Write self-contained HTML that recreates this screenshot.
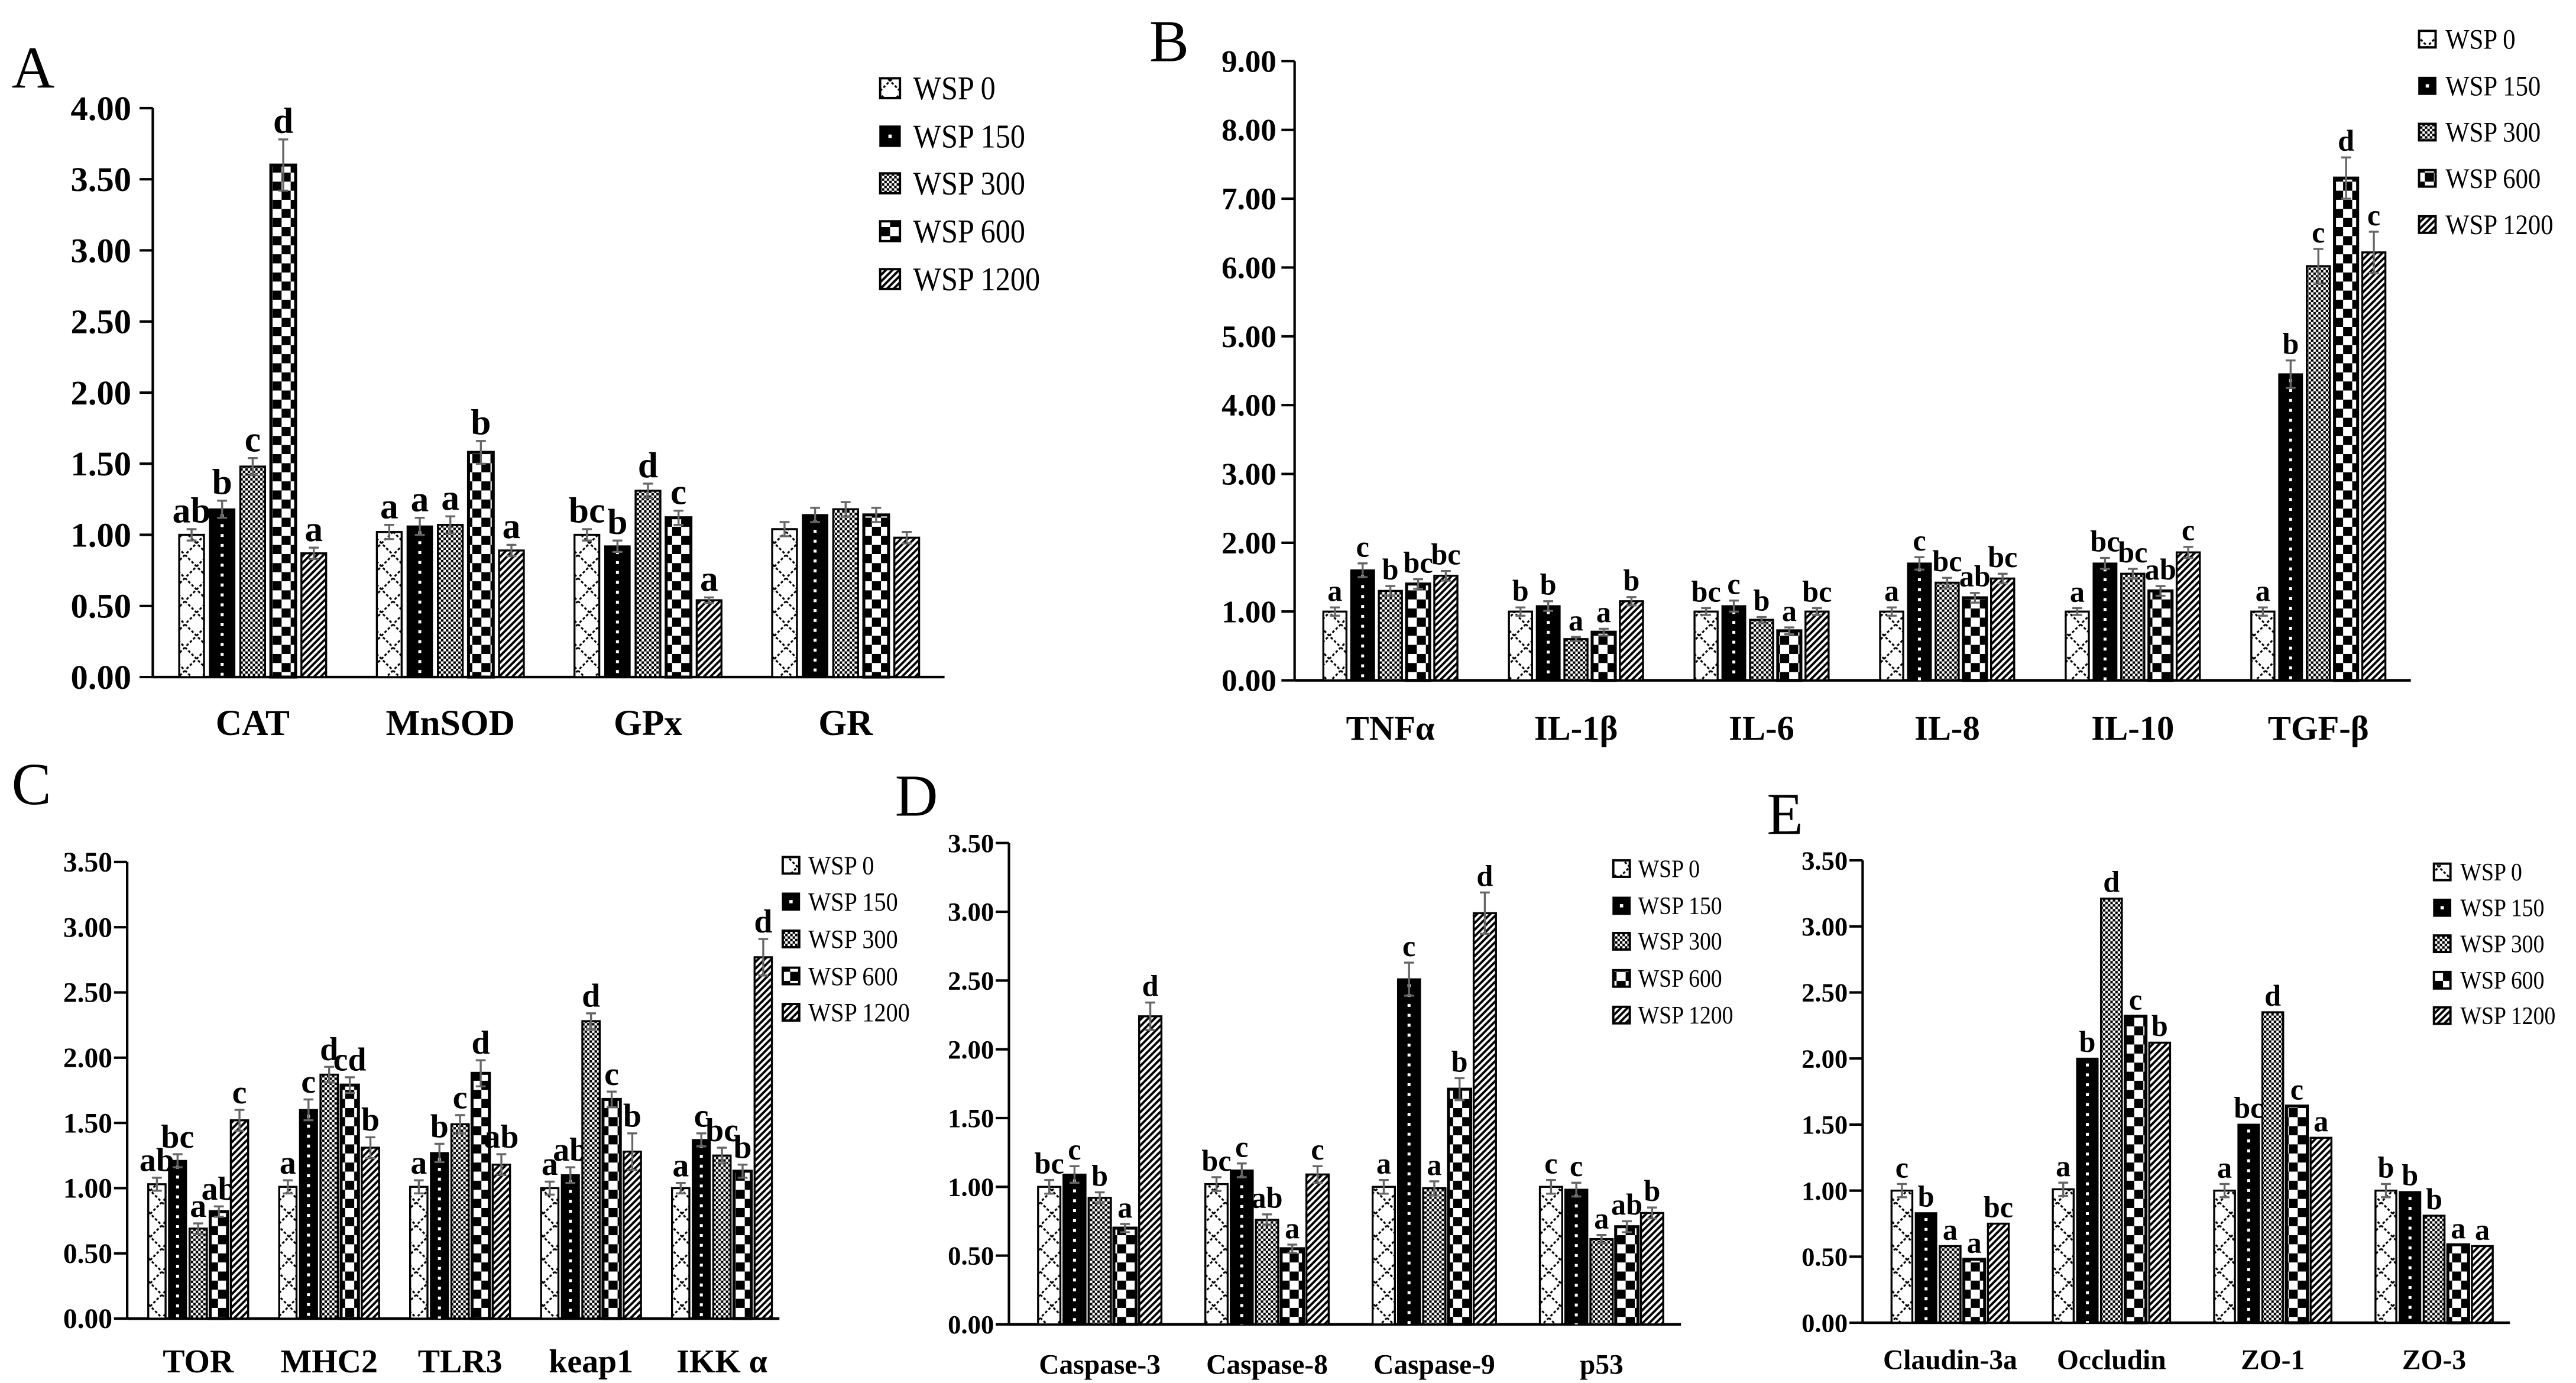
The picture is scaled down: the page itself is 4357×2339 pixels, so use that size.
<!DOCTYPE html>
<html><head><meta charset="utf-8"><style>
html,body{margin:0;padding:0;background:#fff}
svg{display:block}
text{font-family:"Liberation Serif",serif}
</style></head><body>
<svg id="fig" xmlns="http://www.w3.org/2000/svg" width="4357" height="2339" viewBox="0 0 1560 837.5">
<defs>
<pattern id="p0" patternUnits="userSpaceOnUse" width="14" height="14">
<rect width="14" height="14" fill="#fff"/>
<path d="M0,0 L14,14 M14,0 L0,14" stroke="#000" stroke-width="1.1" stroke-dasharray="1.6,1.2" fill="none"/>
</pattern>
<pattern id="p2" patternUnits="userSpaceOnUse" width="3" height="3">
<rect width="3" height="3" fill="#fff"/>
<rect width="1.5" height="1.5" fill="#000"/><rect x="1.5" y="1.5" width="1.5" height="1.5" fill="#000"/>
</pattern>
<pattern id="p3" patternUnits="userSpaceOnUse" width="11" height="11">
<rect width="11" height="11" fill="#fff"/>
<rect width="5.5" height="5.5" fill="#000"/><rect x="5.5" y="5.5" width="5.5" height="5.5" fill="#000"/>
</pattern>
<pattern id="p4" patternUnits="userSpaceOnUse" width="4" height="4">
<rect width="4" height="4" fill="#fff"/>
<path d="M-1,5 L5,-1 M-1,1 L1,-1 M3,5 L5,3" stroke="#000" stroke-width="1.4"/>
</pattern>
</defs>
<g id="root"></g>
</svg>
<script>
// ---------- Panel A data ----------
const aCats = ["CAT","MnSOD","GPx","GR"];
const aWsp0 = [1.00,1.02,1.00,1.04];
const aWsp150 = [1.18,1.06,0.92,1.14];
const aWsp300 = [1.48,1.07,1.31,1.18];
const aWsp600 = [3.60,1.58,1.12,1.14];
const aWsp1200 = [0.87,0.89,0.54,0.98];
const aErr = [[0.04,0.06,0.06,0.18,0.04],[0.05,0.06,0.06,0.08,0.04],[0.04,0.04,0.05,0.05,0.02],[0.05,0.05,0.05,0.05,0.04]];
const aLetters = [["ab","b","c","d","a"],["a","a","a","b","a"],["bc","b","d","c","a"],["","","","",""]];
const aTicks = ["0.00","0.50","1.00","1.50","2.00","2.50","3.00","3.50","4.00"];
// ---------- Panel B data ----------
const bCats = ["TNF\u03b1","IL-1\u03b2","IL-6","IL-8","IL-10","TGF-\u03b2"];
const bWsp0 = [1.00,1.00,1.00,1.00,1.00,1.00];
const bWsp150 = [1.60,1.08,1.08,1.70,1.70,4.45];
const bWsp300 = [1.30,0.60,0.88,1.42,1.55,6.02];
const bWsp600 = [1.40,0.70,0.72,1.20,1.30,7.30];
const bWsp1200 = [1.52,1.15,1.00,1.48,1.86,6.22];
const bErr = [[0.06,0.1,0.07,0.07,0.07],[0.06,0.07,0.03,0.05,0.06],[0.05,0.08,0.04,0.05,0.05],[0.06,0.09,0.07,0.07,0.07],[0.05,0.08,0.07,0.07,0.08],[0.06,0.2,0.25,0.3,0.3]];
const bLetters = [["a","c","b","bc","bc"],["b","b","a","a","b"],["bc","c","b","a","bc"],["a","c","bc","ab","bc"],["a","bc","bc","ab","c"],["a","b","c","d","c"]];
const bTicks = ["0.00","1.00","2.00","3.00","4.00","5.00","6.00","7.00","8.00","9.00"];
// ---------- Panel C data ----------
const cCats = ["TOR","MHC2","TLR3","keap1","IKK \u03b1"];
const cWsp0 = [1.03,1.01,1.01,1.00,1.00];
const cWsp150 = [1.21,1.60,1.27,1.10,1.37];
const cWsp300 = [0.69,1.87,1.49,2.28,1.25];
const cWsp600 = [0.82,1.79,1.88,1.68,1.13];
const cWsp1200 = [1.52,1.31,1.18,1.28,2.77];
const cErr = [[0.05,0.05,0.04,0.04,0.08],[0.05,0.08,0.06,0.06,0.08],[0.05,0.07,0.07,0.1,0.08],[0.05,0.06,0.06,0.06,0.14],[0.04,0.05,0.06,0.05,0.14]];
const cLetters = [["ab","bc","a","ab","c"],["a","c","d","cd","b"],["a","b","c","d","ab"],["a","ab","d","c","b"],["a","c","bc","b","d"]];
const cTicks = ["0.00","0.50","1.00","1.50","2.00","2.50","3.00","3.50"];
// ---------- Panel D data ----------
const dCats = ["Caspase-3","Caspase-8","Caspase-9","p53"];
const dWsp0 = [1.00,1.02,1.00,1.00];
const dWsp150 = [1.09,1.12,2.51,0.98];
const dWsp300 = [0.92,0.76,0.99,0.62];
const dWsp600 = [0.70,0.55,1.71,0.71];
const dWsp1200 = [2.24,1.09,2.99,0.81];
const dErr = [[0.05,0.06,0.04,0.03,0.1],[0.05,0.05,0.04,0.03,0.06],[0.05,0.12,0.05,0.08,0.15],[0.05,0.05,0.03,0.04,0.04]];
const dLetters = [["bc","c","b","a","d"],["bc","c","ab","a","c"],["a","c","a","b","d"],["c","c","a","ab","b"]];
const dTicks = ["0.00","0.50","1.00","1.50","2.00","2.50","3.00","3.50"];
// ---------- Panel E data ----------
const eCats = ["Claudin-3a","Occludin","ZO-1","ZO-3"];
const eWsp0 = [1.00,1.01,1.00,1.00];
const eWsp150 = [0.83,2.00,1.50,0.99];
const eWsp300 = [0.58,3.21,2.35,0.81];
const eWsp600 = [0.48,2.32,1.64,0.59];
const eWsp1200 = [0.75,2.12,1.40,0.58];
const eErr = [[0.05,0,0,0,0],[0.05,0,0,0,0],[0.05,0,0,0,0],[0.05,0,0,0,0]];
const eLetters = [["c","b","a","a","bc"],["a","b","d","c","b"],["a","bc","d","c","a"],["b","b","b","a","a"]];
const eTicks = ["0.00","0.50","1.00","1.50","2.00","2.50","3.00","3.50"];

const seriesNames = ["WSP 0","WSP 150","WSP 300","WSP 600","WSP 1200"];
const NS = "http://www.w3.org/2000/svg";
const root = document.getElementById('root');
function mk(tag, attrs, parent){const e=document.createElementNS(NS,tag);for(const k in attrs)e.setAttribute(k,attrs[k]);(parent||root).appendChild(e);return e;}

const panels = [
 {id:"a",letter:"A",lx:7,ly:53,cats:aCats,ser:[aWsp0,aWsp150,aWsp300,aWsp600,aWsp1200],err:aErr,let:aLetters,ticks:aTicks,step:0.5,
  ax:92.5,y0:410,yTopVal:4,yTop:65.5,xEnd:572,c0:153,gp:119.7,pitch:18.5,bw:15,tickFs:21,tickGap:13,catFs:22,catY:445,letFs:22,
  leg:{bx:533,tx:553,ys:[53.4,82.5,111,140,169],bs:12,fs:20}},
 {id:"b",letter:"B",lx:696,ly:37,cats:bCats,ser:[bWsp0,bWsp150,bWsp300,bWsp600,bWsp1200],err:bErr,let:bLetters,ticks:bTicks,step:1,
  ax:784,y0:412,yTopVal:9,yTop:37,xEnd:1460,c0:842,gp:112.4,pitch:16.8,bw:14,tickFs:19,tickGap:11,catFs:21,catY:448,letFs:18,
  leg:{bx:1465,tx:1481,ys:[23.7,52,80,108,136],bs:10,fs:17}},
 {id:"c",letter:"C",lx:7,ly:487,cats:cCats,ser:[cWsp0,cWsp150,cWsp300,cWsp600,cWsp1200],err:cErr,let:cLetters,ticks:cTicks,step:0.5,
  ax:77,y0:798.5,yTopVal:3.5,yTop:522,xEnd:472,c0:120,gp:79.3,pitch:12.5,bw:10.5,tickFs:17,tickGap:9,catFs:20,catY:831,letFs:20,
  leg:{bx:474,tx:489.5,ys:[524,546,568.6,591,613],bs:10,fs:16}},
 {id:"d",letter:"D",lx:542,ly:494,cats:dCats,ser:[dWsp0,dWsp150,dWsp300,dWsp600,dWsp1200],err:dErr,let:dLetters,ticks:dTicks,step:0.5,
  ax:611,y0:802,yTopVal:3.5,yTop:510.5,xEnd:1018,c0:666,gp:101.3,pitch:15.3,bw:13.5,tickFs:16,tickGap:9,catFs:17,catY:832,letFs:18,
  leg:{bx:977,tx:992,ys:[526,548.5,570,592.5,614.7],bs:10,fs:15}},
 {id:"e",letter:"E",lx:1070,ly:505,cats:eCats,ser:[eWsp0,eWsp150,eWsp300,eWsp600,eWsp1200],err:eErr,let:eLetters,ticks:eTicks,step:0.5,
  ax:1128,y0:801,yTopVal:3.5,yTop:521,xEnd:1520,c0:1181,gp:97.7,pitch:14.6,bw:12.6,tickFs:16,tickGap:9,catFs:17,catY:829,letFs:18,
  leg:{bx:1474,tx:1490,ys:[528,549.7,571.5,593.6,615],bs:10,fs:15}}
];

function drawBar(g,s,x,y,w,h){
  let r;
  if(s===1){
    r=mk('rect',{x:x,y:y,width:w,height:h,fill:'#000',stroke:'#000','stroke-width':1},g);
    const ln=mk('line',{x1:x+w/2,y1:y+3,x2:x+w/2,y2:y+h,stroke:'#fff','stroke-width':1.8,'stroke-dasharray':'1.8,4.2'},g);
    
    
  } else {
    r=mk('rect',{x:x,y:y,width:w,height:h,fill:'url(#p'+s+')',stroke:'#000','stroke-width':s===3?1.8:1.2},g);
  }
  return r;
}

panels.forEach(p=>{
  const g=mk('g',{});
  
  
  const yS=v=>p.y0-(v/p.yTopVal)*(p.y0-p.yTop);
  const xC=i=>p.c0+i*p.gp;
  const pl=mk('text',{x:p.lx,y:p.ly,'font-size':36},g); pl.textContent=p.letter;
  
  
  const ya=mk('line',{x1:p.ax,y1:p.yTop,x2:p.ax,y2:p.y0,stroke:'#000','stroke-width':1.5},g);
  
  
  const xa=mk('line',{x1:p.ax,y1:p.y0,x2:p.xEnd,y2:p.y0,stroke:'#000','stroke-width':1.6},g);
  
  
  p.ticks.forEach((t,i)=>{
    const v=i*p.step, y=yS(v);
    const tl=mk('line',{x1:p.ax-8,y1:y,x2:p.ax,y2:y,stroke:'#000','stroke-width':1.5},g);
    
    
    const tx=mk('text',{x:p.ax-p.tickGap,y:y+p.tickFs*0.34,'font-size':p.tickFs,'font-weight':'bold','text-anchor':'end'},g);
    tx.textContent=t;
    
    
  });
  p.cats.forEach((c,ci)=>{
    const cx=xC(ci);
    const cl=mk('text',{x:cx,y:p.catY,'font-size':p.catFs,'font-weight':'bold','text-anchor':'middle'},g);
    cl.textContent=c;
    
    
    for(let s=0;s<5;s++){
      const v=p.ser[s][ci];
      const bx=cx+(s-2)*p.pitch-p.bw/2, by=yS(v);
      const r=drawBar(g,s,bx,by,p.bw,p.y0-by);
      
      
      const e=p.err[ci][s];
      let top=by;
      if(e>0){
        const e1=yS(v+e), e2=yS(v-e), mx=bx+p.bw/2;
        const eb=mk('path',{d:`M${mx},${e1}V${e2}M${mx-3},${e1}H${mx+3}M${mx-3},${e2}H${mx+3}`,stroke:'#666','stroke-width':1.2,fill:'none'},g);
        
        
        top=e1;
      }
      const L=p.let[ci][s];
      if(L){
        const lt=mk('text',{x:bx+p.bw/2,y:top-4,'font-size':p.letFs,'font-weight':'bold','text-anchor':'middle'},g);
        lt.textContent=L;
        
        
      }
    }
  });
  const lg=mk('g',{},g);
  
  
  seriesNames.forEach((n,s)=>{
    const y=p.leg.ys[s], b=p.leg.bs;
    const it=mk('g',{},lg);
    
    
    if(s===1){mk('rect',{x:p.leg.bx,y:y-b/2,width:b,height:b,fill:'#000',stroke:'#000'},it);mk('rect',{x:p.leg.bx+b/2-1,y:y-1,width:2,height:2,fill:'#fff'},it);}
    else mk('rect',{x:p.leg.bx,y:y-b/2,width:b,height:b,fill:'url(#p'+s+')',stroke:'#000','stroke-width':1.4},it);
    const t=mk('text',{'font-size':p.leg.fs,transform:`translate(${p.leg.tx},${y+p.leg.fs*0.34}) scale(0.9,1)`},it);
    t.textContent=n;
  });
});
</script>
</body></html>
